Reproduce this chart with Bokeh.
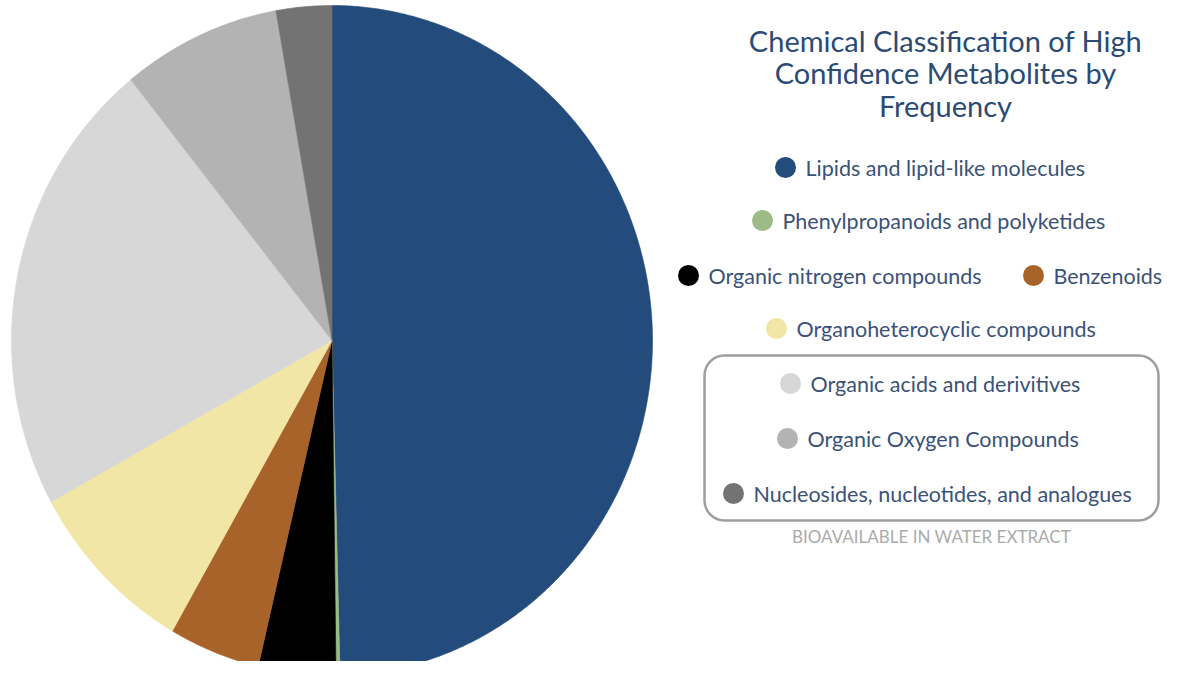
import numpy as np
from bokeh.plotting import figure
from bokeh.models import Range1d, BoxAnnotation
from bokeh.core.properties import value
from bokeh.embed import file_html
from bokeh.resources import INLINE

# ---- data ----
categories = [
    "Lipids and lipid-like molecules",
    "Phenylpropanoids and polyketides",
    "Organic nitrogen compounds",
    "Benzenoids",
    "Organoheterocyclic compounds",
    "Organic acids and derivitives",
    "Organic Oxygen Compounds",
    "Nucleosides, nucleotides, and analogues",
]
shares = [49.6, 0.2, 3.9, 4.6, 8.7, 22.2, 8.0, 2.8]
colors = ["#234b7c", "#9dbb86", "#000000", "#a8632b", "#f2e6a6", "#d7d7d7", "#b3b3b3", "#737373"]
title_lines = ["Chemical Classification of High", "Confidence Metabolites by", "Frequency"]
box_caption = "BIOAVAILABLE IN WATER EXTRACT"

# ---- layout (screen px -> data) ----
W, H = 1162, 661
def sx(x):
    return x
def sy(y):
    return H - y

p = figure(width=W, height=H, x_range=Range1d(0, W), y_range=Range1d(0, H),
           output_backend="svg", toolbar_location=None, min_border=0,
           background_fill_color="white", border_fill_color="white")
p.xaxis.visible = False
p.yaxis.visible = False
p.xgrid.visible = False
p.ygrid.visible = False
p.outline_line_color = None

# ---- pie (clockwise from 12 o'clock) ----
vals = np.array(shares, dtype=float)
frac = vals / vals.sum()
ends = np.cumsum(frac) * 2 * np.pi
starts = ends - frac * 2 * np.pi
cx, cy = sx(331.5), sy(340)
rx, ry = 320.5, 335.0
xs, ys = [], []
for a0, a1 in zip(starts, ends):
    t = np.linspace(a0, a1, max(3, int((a1 - a0) * 150)))
    xs.append([cx] + list(cx + rx * np.sin(t)) + [cx])
    ys.append([cy] + list(cy + ry * np.cos(t)) + [cy])
p.patches(xs, ys, fill_color=colors, line_color=colors, line_width=0.6)

# ---- title ----
p.text(x=[sx(945)] * 3, y=[sy(40), sy(72), sy(105)], text=title_lines,
       text_align="center", text_baseline="middle",
       text_font=value("Lato"), text_font_size="29px", text_color="#2b4b75")

# ---- legend ----
dot_x = [785, 762, 688, 1033, 776, 790, 787, 733]
dot_y = [167, 220, 275, 275, 328, 383, 438, 493]
p.scatter(x=[sx(v) for v in dot_x], y=[sy(v) for v in dot_y], size=21,
          fill_color=colors, line_color=None)
p.text(x=[sx(v + 20) for v in dot_x], y=[sy(v) for v in dot_y], text=categories,
       text_align="left", text_baseline="middle",
       text_font=value("Lato"), text_font_size="21.5px", text_color="#3a5278")

box = BoxAnnotation(left=sx(704), right=sx(1158), top=sy(355), bottom=sy(520),
                    fill_alpha=0, line_color="#9e9e9e", line_alpha=1.0,
                    line_width=2.5, border_radius=20)
p.add_layout(box)

p.text(x=[sx(931)], y=[sy(536)], text=[box_caption], text_align="center",
       text_baseline="middle", text_font=value("Lato"), text_font_size="17px",
       text_color="#ababab")

open("out.html", "w").write(file_html(p, INLINE))
